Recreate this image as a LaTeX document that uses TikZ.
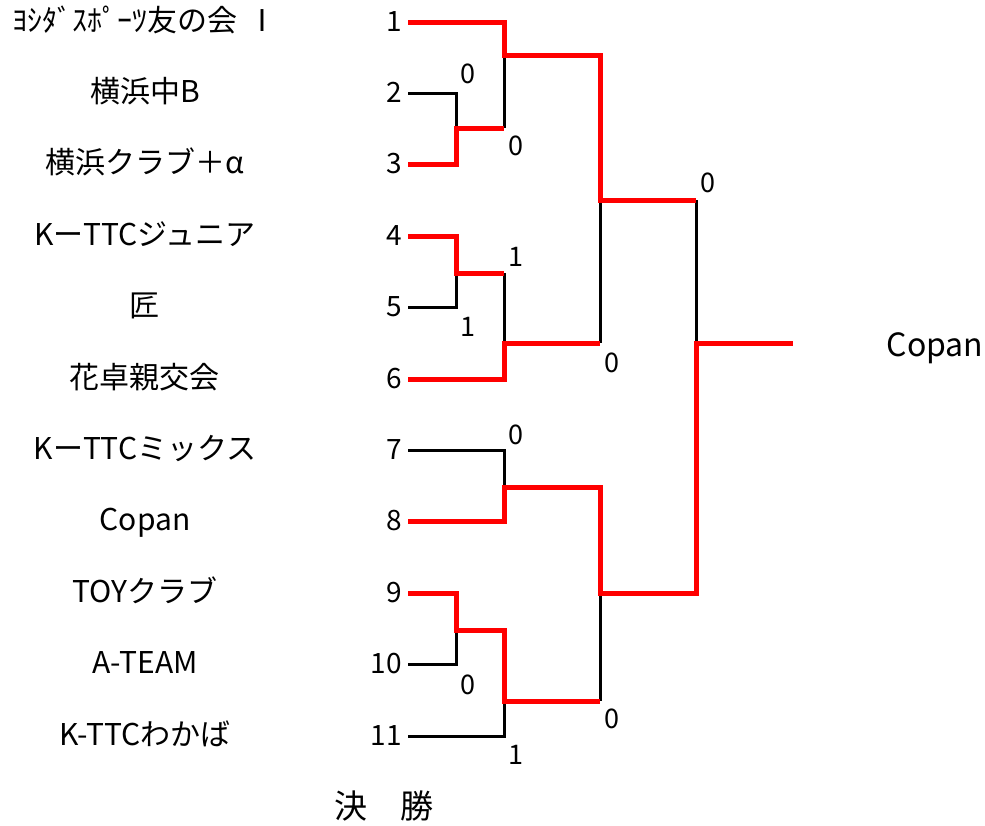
\documentclass[tikz,border=0pt]{standalone}
\usepackage{fontspec}
\setmainfont{Noto Sans CJK JP}
\usepackage{xcolor}
\usepackage{tikz}
\usetikzlibrary{matrix}
\usetikzlibrary{calc}
\tikzstyle{win} = [red,line width=5pt]
\tikzstyle{lose} = [black,line width=3pt]
\tikzstyle{score} = [inner sep=0pt,font=\fontsize{27}{32}\selectfont]
\newcommand{\teamfont}{\fontsize{30}{35}\selectfont}
\newcommand{\seedfont}{\fontsize{28}{33}\selectfont}

\begin{document}
\begin{tikzpicture}[x=1pt,y=-1pt]
\useasboundingbox (0,0) rectangle (985,825);
\matrix[
  matrix of nodes,
  nodes={inner sep=0pt,text height=22pt,text depth=4pt},
  column 1/.style={nodes={text width=270pt,align=center,font=\teamfont}},
  column 2/.style={nodes={text width=40pt,align=right,font=\seedfont}},
  row sep=45.4pt,
  column sep=82pt
] (M) at (206,379)
{
    ﾖｼﾀﾞｽﾎﾟｰﾂ友の会 Ⅰ & 1 \\
    横浜中B & 2 \\
    横浜クラブ＋α & 3 \\
    KーTTCジュニア & 4 \\
    匠 & 5 \\
    花卓親交会 & 6 \\
    KーTTCミックス & 7 \\
    Copan & 8 \\
    TOYクラブ & 9 \\
    A-TEAM & 10 \\
    K-TTCわかば & 11 \\
};
\coordinate (m23) at (456,128);
\coordinate (m1) at (504,55);
\coordinate (m45) at (456,273);
\coordinate (m6) at (504,343);
\coordinate (mA) at (600,200);
\coordinate (m78) at (504,487);
\coordinate (m910) at (456,630);
\coordinate (m11) at (504,701);
\coordinate (mB) at (600,593);
\coordinate (mF) at (696,343);
\coordinate (champ) at (793,343);
\draw[lose] ([xshift=6pt]M-2-2.east) -| (m23);
\draw[lose] (m23 -| m1) -- (m1);
\draw[lose] ([xshift=6pt]M-5-2.east) -| (m45);
\draw[lose] (m45 -| m6) -- (m6);
\draw[lose] (mA) -- (m6 -| mA);
\draw[lose] (mA -| mF) -- (mF);
\draw[lose] ([xshift=6pt]M-7-2.east) -| (m78);
\draw[lose] ([xshift=6pt]M-10-2.east) -| (m910);
\draw[lose] ([xshift=6pt]M-11-2.east) -| (m11);
\draw[lose] (mB) -- (m11 -| mB);
\draw[win] ([xshift=6pt]M-1-2.east) -| (m1) -| (mA) -- (mA -| mF);
\draw[win] ([xshift=6pt]M-3-2.east) -| (m23) -- (m23 -| m1);
\draw[win] ([xshift=6pt]M-4-2.east) -| (m45) -- (m45 -| m6);
\draw[win] ([xshift=6pt]M-6-2.east) -| (m6) -- (m6 -| mA);
\draw[win] ([xshift=6pt]M-8-2.east) -| (m78) -| (mB) -| (mF) -- (champ);
\draw[win] ([xshift=6pt]M-9-2.east) -| (m910) -| (m11) -- (m11 -| mB);
\node[score] (sc23) at (468,74) {0};
\node[score] (sc1) at (516,146) {0};
\node[score] (scA) at (708,183) {0};
\node[score] (sc45) at (516,257) {1};
\node[score] (sc5) at (468,327) {1};
\node[score] (sc6) at (612,363) {0};
\node[score] (sc78) at (516,435) {0};
\node[score] (sc910) at (468,685) {0};
\node[score] (scB) at (612,719) {0};
\node[score] (sc11) at (516,755) {1};
\node[anchor=base,font=\fontsize{32}{38}\selectfont] (winner) at (935,356) {Copan};
\node[font=\fontsize{33}{40}\selectfont] (title) at (384,806) {決　勝};
\end{tikzpicture}
\end{document}
